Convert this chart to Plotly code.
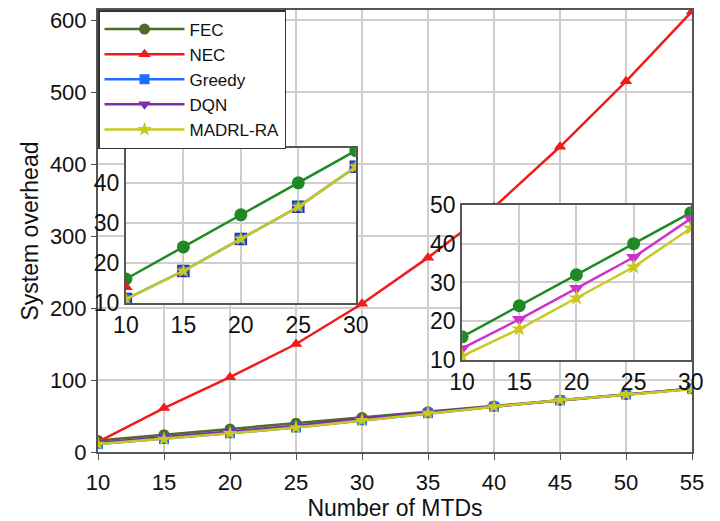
import plotly.graph_objects as go

# Number of MTDs
mtds = [10, 15, 20, 25, 30, 35, 40, 45, 50, 55]

# System overhead per scheme
fec = [16, 24, 32, 40, 48, 56, 64, 72, 80, 88]
nec = [14, 61, 104, 150, 206, 270, 340, 424, 515, 612]
greedy = [11, 18, 26, 34, 44, 54, 63, 72, 80, 88]
dqn = [13, 20.5, 28.5, 36.5, 46.5, 55, 63.5, 72, 80, 88]
madrl = [11, 18, 26, 34, 44, 54, 63, 72, 80, 87]

FONT = "Liberation Sans, Arial, sans-serif"
C_FEC = "#4e6b2b"
C_FEC_IN = "#1f8a24"
C_NEC = "#f21a1a"
C_GREEDY = "#1f6fff"
C_DQN = "#7a2fb0"
C_DQN_IN = "#cc33cc"
C_MADRL = "#c8c81e"

fig = go.Figure()

main = [
    ("FEC", fec, C_FEC, "circle", 11),
    ("NEC", nec, C_NEC, "triangle-up", 11),
    ("Greedy", greedy, C_GREEDY, "square", 10),
    ("DQN", dqn, C_DQN, "triangle-down", 11),
    ("MADRL-RA", madrl, C_MADRL, "star", 11),
]
for name, ys, col, sym, sz in main:
    fig.add_trace(go.Scatter(
        x=mtds, y=ys, name=name, mode="lines+markers",
        line=dict(color=col, width=2.5),
        marker=dict(symbol=sym, size=sz, color=col),
        xaxis="x", yaxis="y",
    ))

# zoomed views of the first five points
n = 5
inset1 = [
    (fec, C_FEC_IN, "circle", "lines+markers", 13, None),
    (nec, C_NEC, "triangle-up", "markers", 12, None),
    (greedy, C_GREEDY, "square", "lines+markers", 11, "#2a2ab0"),
    (madrl, C_MADRL, "star", "lines+markers", 11, None),
]
for ys, col, sym, mode, sz, lc in inset1:
    fig.add_trace(go.Scatter(
        x=mtds[:n], y=ys[:n], mode=mode, showlegend=False,
        line=dict(color=col, width=2.5),
        marker=dict(symbol=sym, size=sz, color=col,
                    line=dict(color=lc or col, width=1.5 if lc else 0)),
        xaxis="x2", yaxis="y2", hoverinfo="skip",
    ))

inset2 = [
    (fec, C_FEC_IN, "circle", 13),
    (dqn, C_DQN_IN, "triangle-down", 13),
    (madrl, C_MADRL, "star", 12),
]
for ys, col, sym, sz in inset2:
    fig.add_trace(go.Scatter(
        x=mtds[:n], y=ys[:n], mode="lines+markers", showlegend=False,
        line=dict(color=col, width=2.5),
        marker=dict(symbol=sym, size=sz, color=col),
        xaxis="x3", yaxis="y3", hoverinfo="skip",
    ))

AX = "#555555"
GRID = "#cfcfcf"

def inset_axes(dom_x, dom_y, yrange, anchor_x, anchor_y):
    xa = dict(domain=dom_x, anchor=anchor_y, range=[10, 30], dtick=5,
              showgrid=True, gridcolor=GRID, gridwidth=1.5,
              showline=True, linecolor=AX, linewidth=2, mirror=True,
              ticks="", tickfont=dict(size=23, color="#111", family=FONT),
              zeroline=False, automargin=False)
    ya = dict(domain=dom_y, anchor=anchor_x, range=yrange, dtick=10,
              showgrid=True, gridcolor=GRID, gridwidth=1.5,
              showline=True, linecolor=AX, linewidth=2, mirror=True,
              ticks="", tickfont=dict(size=23, color="#111", family=FONT),
              zeroline=False, automargin=False)
    return xa, ya

x2, y2 = inset_axes([0.047, 0.434], [0.337, 0.688], [10, 48.7], "x2", "y2")
x3, y3 = inset_axes([0.613, 0.998], [0.208, 0.559], [10, 50], "x3", "y3")

fig.update_layout(
    width=720, height=521,
    margin=dict(l=98, r=28, t=10, b=69, autoexpand=False),
    paper_bgcolor="white", plot_bgcolor="white",
    font=dict(family=FONT, color="#111"),
    xaxis=dict(
        domain=[0, 1], range=[10, 55], dtick=5,
        showgrid=True, gridcolor=GRID, gridwidth=1.5,
        showline=True, linecolor=AX, linewidth=2, mirror=True,
        ticks="outside", ticklen=6, tickcolor=AX, ticklabelstandoff=4,
        tickfont=dict(size=22), zeroline=False, automargin=False,
        title=dict(text="Number of MTDs", font=dict(size=23), standoff=2),
    ),
    yaxis=dict(
        domain=[0, 1], range=[0, 614], dtick=100,
        showgrid=True, gridcolor=GRID, gridwidth=1.5,
        showline=True, linecolor=AX, linewidth=2, mirror=True,
        ticks="outside", ticklen=5, tickcolor=AX,
        tickfont=dict(size=22), zeroline=False, automargin=False,
        title=dict(text="System overhead", font=dict(size=23), standoff=5),
    ),
    xaxis2=x2, yaxis2=y2, xaxis3=x3, yaxis3=y3,
    legend=dict(
        x=0, y=1, xanchor="left", yanchor="top",
        bgcolor="white", bordercolor="#333", borderwidth=1.5,
        font=dict(size=17, family=FONT, color="#111"),
        tracegroupgap=0, itemwidth=80,
    ),
)

fig.write_html("out.html")
